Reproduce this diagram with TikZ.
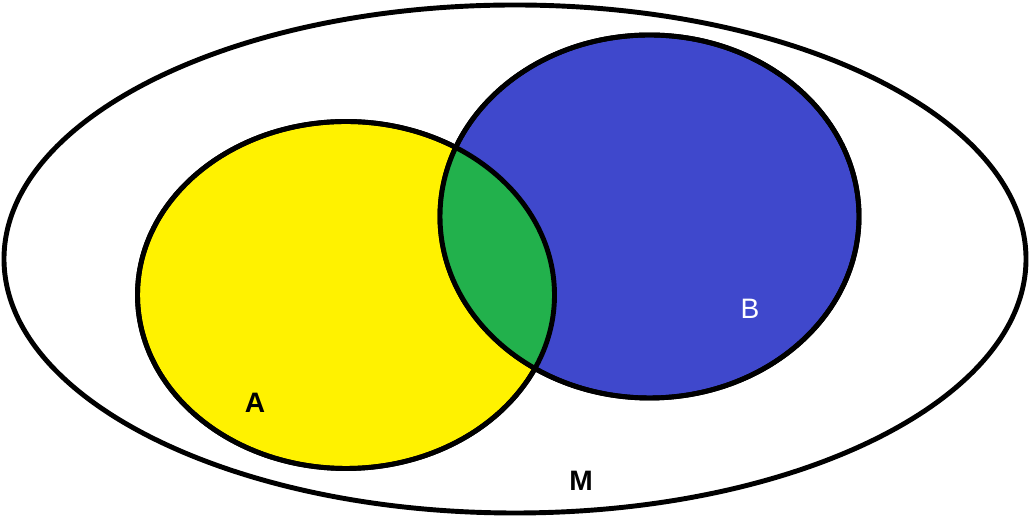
\documentclass[tikz,border=0pt]{standalone}
\usepackage{fontspec}
\setmainfont{Liberation Sans}
\usepackage{xcolor}
\usetikzlibrary{
		calc,
		positioning
	}
\definecolor{setyellow}{RGB}{255,242,0}
\definecolor{setblue}{RGB}{63,72,204}
\definecolor{setgreen}{RGB}{34,177,76}
\tikzset{
		>=stealth,
		setline/.style={draw=black, line width=2.8pt},
		setlabel/.style={font=\fontsize{16}{19}\selectfont}
	}

\begin{document}
\begin{tikzpicture}
        \useasboundingbox (0,0) rectangle (20.68,10.4);

        % the universe
        \filldraw[fill=white, setline] (10.30,5.22) ellipse (10.22cm and 5.08cm);

        % draw the sets
        \filldraw[fill=setyellow, setline] (6.92,4.50) ellipse (4.17cm and 3.47cm);
        \filldraw[fill=setblue, setline] (12.99,6.07) ellipse (4.19cm and 3.63cm);

        % the common part
        \begin{scope}
            \clip (6.92,4.50) ellipse (4.17cm and 3.47cm);
            \fill[setgreen] (12.99,6.07) ellipse (4.19cm and 3.63cm);
        \end{scope}
        \draw[setline] (6.92,4.50) ellipse (4.17cm and 3.47cm);
        \draw[setline] (12.99,6.07) ellipse (4.19cm and 3.63cm);

        % the texts
        \node[setlabel, font=\fontsize{16}{19}\selectfont\bfseries] (labelA) at (5.10,2.34) {A};
        \node[setlabel, text=white] (labelB) at (15.00,4.22) {B};
        \node[setlabel, font=\fontsize{16}{19}\selectfont\bfseries] (labelM) at (11.62,0.78) {M};

    \end{tikzpicture}
\end{document}
